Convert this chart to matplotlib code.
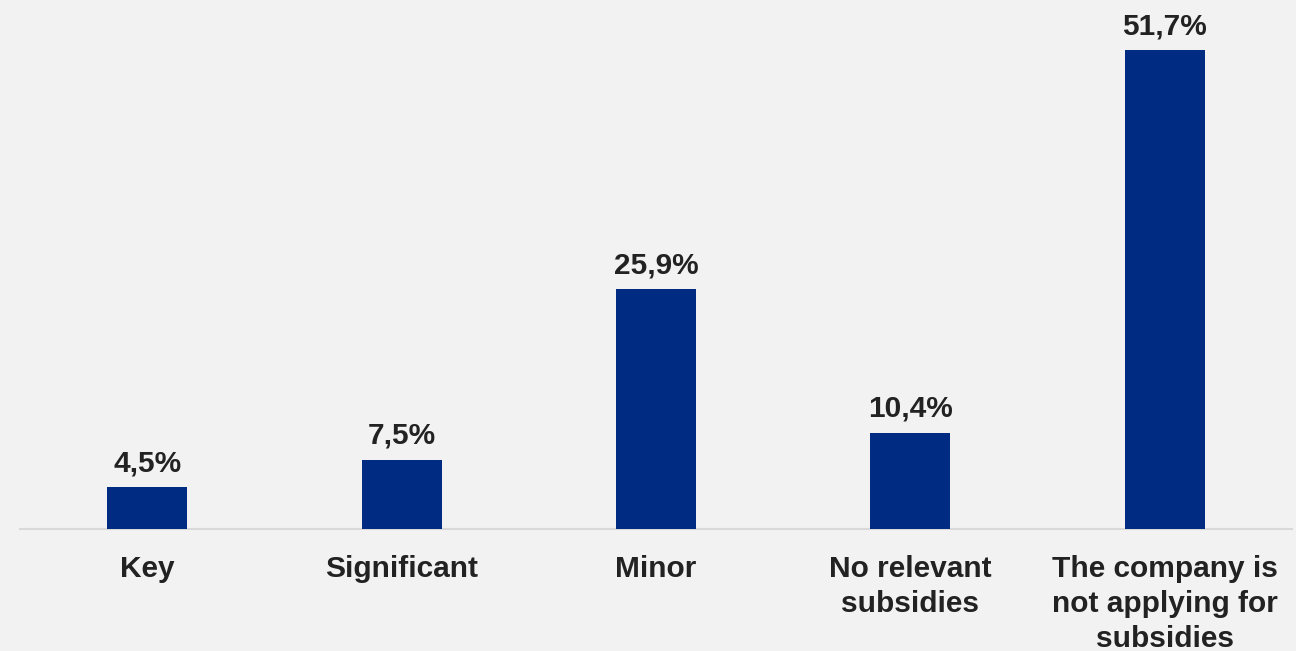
import matplotlib.pyplot as plt

# 数据
categories = ["Key", "Significant", "Minor", "No relevant\nsubsidies",
              "The company is\nnot applying for\nsubsidies"]
values = [4.5, 7.5, 25.9, 10.4, 51.7]
value_labels = ["4,5%", "7,5%", "25,9%", "10,4%", "51,7%"]

bg_color = "#f2f2f2"
bar_color = "#002b82"
text_color = "#222222"

plt.rcParams['font.family'] = ['Liberation Sans', 'DejaVu Sans']

fig = plt.figure(figsize=(12.96, 6.51), dpi=100, facecolor=bg_color)
ax = fig.add_axes([20 / 1296, 1 - 529 / 651, 1272 / 1296, 529 / 651])
ax.set_facecolor(bg_color)

x = range(len(categories))
bars = ax.bar(x, values, width=0.315, color=bar_color, zorder=3)

# 柱顶数值标签
for b, lab in zip(bars, value_labels):
    ax.annotate(lab, (b.get_x() + b.get_width() / 2, b.get_height()),
                xytext=(0, 7), textcoords="offset points",
                ha="center", va="bottom", fontsize=21.5, fontweight="bold",
                color=text_color)

ax.set_xlim(-0.5, len(categories) - 0.5)
ax.set_ylim(0, 57.1)
ax.set_xticks(list(x))
ax.set_xticklabels(categories, fontsize=21.5, fontweight="bold", color=text_color,
                   linespacing=1.3)
ax.tick_params(axis="x", length=0, pad=19)
ax.set_yticks([])

for s in ["top", "right", "left"]:
    ax.spines[s].set_visible(False)
ax.spines["bottom"].set_color("#d9d9d9")
ax.spines["bottom"].set_linewidth(1.5)

fig.savefig("out.png", dpi=100, facecolor=bg_color)
